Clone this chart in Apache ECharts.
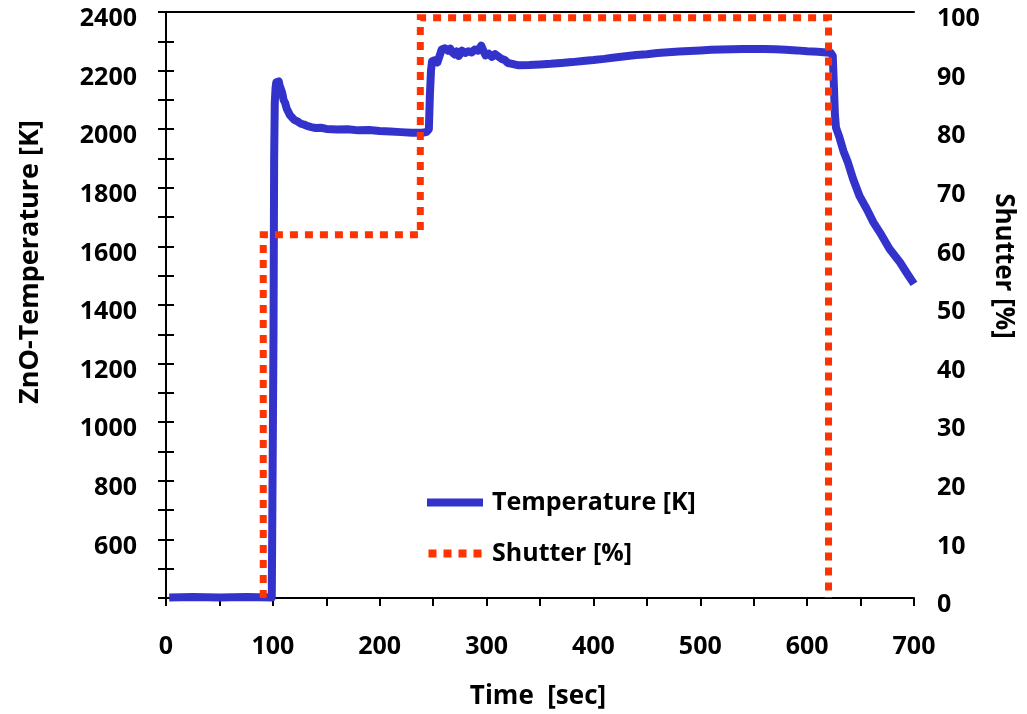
<!DOCTYPE html>
<html>
<head>
<meta charset="utf-8">
<script src="https://cdn.jsdelivr.net/npm/echarts@6/dist/echarts.min.js"></script>
<style>
  html, body { margin: 0; padding: 0; background: #fff; }
  #chart { width: 1027px; height: 714px; }
</style>
</head>
<body>
<div id="chart"></div>
<script>
// Pyrometer reading of the ZnO sample over time [sec, K]
const timeSec = [
  3, 25, 50, 75, 99, 100, 100.6, 101.2, 101.8, 102.5, 103.2, 104, 104.8, 105.5, 106.3, 107,
  108, 109, 110, 111.5, 113, 114.5, 116, 118, 120, 123, 126, 129, 132, 136, 140, 145,
  150, 160, 170, 180, 190, 200, 210, 220, 230, 240, 244, 246, 247, 248, 249, 252,
  254, 256, 258, 261, 264, 266, 268, 270, 272, 274, 277, 280, 283, 286, 289, 292,
  295, 297, 299, 302, 305, 308, 311, 314, 317, 320, 325, 330, 340, 350, 360, 370,
  380, 390, 400, 410, 420, 430, 440, 450, 460, 470, 480, 490, 500, 510, 520, 530,
  540, 550, 560, 570, 580, 590, 600, 610, 618, 622, 624, 625, 626, 627, 630, 634,
  638, 643, 649, 656, 662, 668, 677, 687, 694, 700
];
const temperatureK = [
  402, 403, 402, 403, 402, 404, 1300, 1900, 2090, 2140, 2160, 2166, 2158, 2163, 2150, 2152,
  2132, 2120, 2100, 2090, 2070, 2064, 2048, 2040, 2032, 2027, 2019, 2016, 2011, 2007, 2004, 2005,
  2001, 1999, 2000, 1996, 1997, 1994, 1992, 1990, 1988, 1988, 1991, 2000, 2120, 2200, 2232, 2236,
  2228, 2250, 2272, 2276, 2268, 2275, 2262, 2255, 2265, 2250, 2268, 2260, 2266, 2262, 2272, 2268,
  2285, 2268, 2252, 2258, 2247, 2256, 2248, 2240, 2236, 2226, 2222, 2218, 2219, 2221, 2223, 2226,
  2229, 2233, 2236, 2240, 2245, 2249, 2253, 2256, 2260, 2263, 2265, 2267, 2269, 2271, 2272, 2273,
  2274, 2274, 2274, 2273, 2271, 2269, 2266, 2264, 2262, 2261, 2250, 2150, 2050, 2005, 1975, 1925,
  1888, 1830, 1772, 1726, 1682, 1648, 1592, 1545, 1505, 1472
];

// Shutter opening steps [sec, %]
const shutterTime = [91, 91, 238, 238, 620, 620];
const shutterPct  = [0, 62, 62, 99, 99, 0];

const seriesNames = ['Temperature [K]', 'Shutter [%]'];
const xTicks = [0, 100, 200, 300, 400, 500, 600, 700];
const tempTicks = [600, 800, 1000, 1200, 1400, 1600, 1800, 2000, 2200, 2400];
const shutterTicks = [0, 10, 20, 30, 40, 50, 60, 70, 80, 90, 100];

const FONT = 'Open Sans';
const BLUE = '#3333CC';
const RED = '#FF3300';

const labelBase = { color: '#000', fontFamily: FONT, fontWeight: 'bold', fontSize: 25 };
const axisLineBase = { show: true, lineStyle: { color: '#000', width: 2 } };
const tickBase = { show: true, inside: false, length: 8, lineStyle: { color: '#000', width: 2 } };

// legend keys: a solid bar and a row of square dots
const solidKey = 'path://M0,0H56V8H0Z';
const dottedKey = 'path://M0,0H8V8H0ZM15,0H23V8H15ZM30,0H38V8H30ZM45,0H53V8H45Z';

const chart = echarts.init(document.getElementById('chart'), null, { renderer: 'canvas' });

chart.setOption({
  animation: false,
  backgroundColor: '#fff',
  grid: { left: 166, right: 113, top: 12, bottom: 116, containLabel: false },
  legend: {
    orient: 'vertical',
    left: 422,
    top: 484,
    padding: 5,
    itemWidth: 56,
    itemHeight: 8,
    itemGap: 24,
    data: [
      { name: seriesNames[0], icon: solidKey, itemStyle: { color: BLUE } },
      { name: seriesNames[1], icon: dottedKey, itemStyle: { color: RED } }
    ],
    textStyle: Object.assign({}, labelBase, { lineHeight: 27, padding: [0, 0, 0, 4] })
  },
  xAxis: [
    {
      type: 'value', position: 'bottom', min: 0, max: 700, interval: 50,
      axisLine: axisLineBase, axisTick: tickBase, splitLine: { show: false },
      axisLabel: Object.assign({}, labelBase, {
        margin: 36,
        formatter: v => (xTicks.indexOf(v) >= 0 ? String(v) : '')
      })
    },
    {
      type: 'value', position: 'top', min: 0, max: 700,
      axisLine: axisLineBase, axisTick: { show: false }, axisLabel: { show: false },
      splitLine: { show: false }
    }
  ],
  yAxis: [
    {
      type: 'value', position: 'left', min: 400, max: 2400, interval: 100,
      axisLine: axisLineBase, axisTick: tickBase, splitLine: { show: false },
      axisLabel: Object.assign({}, labelBase, {
        margin: 29, verticalAlign: 'top', lineHeight: 14,
        formatter: v => (tempTicks.indexOf(v) >= 0 ? String(v) : '')
      })
    },
    {
      type: 'value', position: 'right', min: 0, max: 100, interval: 5,
      axisLine: axisLineBase, axisTick: tickBase, splitLine: { show: false },
      axisLabel: Object.assign({}, labelBase, {
        margin: 23, verticalAlign: 'top', lineHeight: 14,
        formatter: v => (shutterTicks.indexOf(v) >= 0 ? String(v) : '')
      })
    }
  ],
  series: [
    {
      name: seriesNames[0], type: 'line', xAxisIndex: 0, yAxisIndex: 0,
      symbol: 'none', showSymbol: false, clip: false, z: 2,
      lineStyle: { color: BLUE, width: 8, cap: 'butt', join: 'round' },
      itemStyle: { color: BLUE },
      data: timeSec.map((t, i) => [t, temperatureK[i]])
    },
    {
      name: seriesNames[1], type: 'line', xAxisIndex: 0, yAxisIndex: 1,
      symbol: 'none', showSymbol: false, clip: false, z: 3,
      lineStyle: { color: RED, width: 7, type: [8, 7], cap: 'butt', join: 'miter' },
      itemStyle: { color: RED },
      data: shutterTime.map((t, i) => [t, shutterPct[i]])
    }
  ],
  graphic: [
    {
      type: 'text', x: 30, y: 262, rotation: Math.PI / 2,
      style: { text: 'ZnO-Temperature [K]', fill: '#000', align: 'center', verticalAlign: 'middle',
        font: 'bold 27px "' + FONT + '"' }
    },
    {
      type: 'text', x: 1003, y: 266, rotation: -Math.PI / 2,
      style: { text: 'Shutter [%]', fill: '#000', align: 'center', verticalAlign: 'middle',
        font: 'bold 26px "' + FONT + '"' }
    },
    {
      type: 'text', x: 538, y: 697,
      style: { text: 'Time  [sec]', fill: '#000', align: 'center', verticalAlign: 'middle',
        font: 'bold 26px "' + FONT + '"' }
    }
  ]
});
</script>
</body>
</html>
